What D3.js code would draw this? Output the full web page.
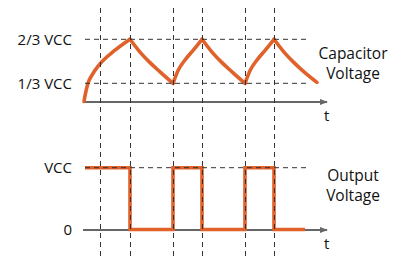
<!DOCTYPE html>
<html>
<head>
<meta charset="utf-8">
<script src="https://cdn.jsdelivr.net/npm/d3@7"></script>
<style>
  body { margin: 0; background: #fff; }
  .label { font-family: "Open Sans", sans-serif; font-size: 15px; fill: #111; }
</style>
</head>
<body>
<script>
  var width = 399, height = 260;
  var orange = "#e1612b", grey = "#666";

  // time in arbitrary units (0 = start of charging)
  var markTimes = [1.7, 4.7, 9.0, 11.9, 16.2, 19.1];
  // capacitor voltage, fraction of VCC
  var capT = [0.1, 0.26, 0.5, 0.9, 1.6, 3.17, 4.7, 5.7, 6.7, 7.7, 9.0, 9.53, 10.2, 11.03, 11.9, 12.9, 13.9, 14.9, 16.2, 16.73, 17.4, 18.23, 19.1, 20.1, 21.1, 22.1, 23.4];
  var capV = [0, 0.156, 0.333, 0.396, 0.472, 0.582, 0.667, 0.57, 0.49, 0.42, 0.333, 0.434, 0.51, 0.585, 0.667, 0.57, 0.49, 0.42, 0.333, 0.434, 0.51, 0.585, 0.667, 0.57, 0.49, 0.42, 0.34];
  var capTicks = [1/3, 2/3], capTickLabels = ["1/3 VCC", "2/3 VCC"];
  // output voltage, 1 = VCC
  var outT = [0.2, 4.7, 4.7, 9.0, 9.0, 11.9, 11.9, 16.2, 16.2, 19.1, 19.1, 22.2];
  var outV = [1, 1, 0, 0, 1, 1, 0, 0, 1, 1, 0, 0];
  var outTicks = [0, 1], outTickLabels = ["0", "VCC"];

  var x = d3.scaleLinear().domain([0, 24.4]).range([83, 327]);
  var yCap = d3.scaleLinear().domain([0, 1/3, 2/3]).range([101.5, 83.3, 39.3]);
  var yOut = d3.scaleLinear().domain([0, 1]).range([229.5, 167.7]);

  var svg = d3.select("body").append("svg").attr("width", width).attr("height", height);

  svg.append("defs").append("marker")
    .attr("id", "arr").attr("viewBox", "0 0 10 10").attr("refX", 9).attr("refY", 5)
    .attr("markerWidth", 4).attr("markerHeight", 4).attr("orient", "auto")
    .append("path").attr("d", "M0,1L10,5L0,9Z").attr("fill", grey);

  // split a series where it turns (so cusps stay sharp)
  function segments(ts, vs) {
    var segs = [], cur = [[ts[0], vs[0]]];
    for (var i = 1; i < ts.length; i++) {
      cur.push([ts[i], vs[i]]);
      if (i < ts.length - 1 && (vs[i] - vs[i - 1]) * (vs[i + 1] - vs[i]) < 0) {
        segs.push(cur);
        cur = [[ts[i], vs[i]]];
      }
    }
    segs.push(cur);
    return segs;
  }

  function panel(y, ticks, labels, ts, vs, smooth, title, tY) {
    // axis
    svg.append("line").attr("x1", x(0)).attr("x2", x(24.4))
      .attr("y1", y(0) + 0.5).attr("y2", y(0) + 0.5)
      .attr("stroke", grey).attr("stroke-width", 2).attr("marker-end", "url(#arr)");
    svg.append("text").attr("class", "label").attr("x", x(24.1)).attr("y", y(0) + 19).text("t");

    // signal
    var line = d3.line().x(function(d) { return x(d[0]); }).y(function(d) { return y(d[1]); });
    if (smooth) {
      line.curve(d3.curveMonotoneX);
      svg.selectAll(null).data(segments(ts, vs)).enter().append("path")
        .attr("d", line).attr("fill", "none")
        .attr("stroke", orange).attr("stroke-width", 3.6).attr("stroke-linecap", "round");
    } else {
      svg.append("path").attr("d", line(ts.map(function(t, i) { return [t, vs[i]]; })))
        .attr("fill", "none").attr("stroke", orange).attr("stroke-width", 3.6);
    }

    // dashed reference levels
    ticks.forEach(function(v, i) {
      if (v > 0) {
        svg.append("line").attr("x1", x(0.2)).attr("x2", x(22.7))
          .attr("y1", y(v)).attr("y2", y(v))
          .attr("stroke", "#333").attr("stroke-width", 1).attr("stroke-dasharray", "5,4");
      }
      svg.append("text").attr("class", "label").attr("x", 72).attr("y", y(v) + 5.5)
        .attr("text-anchor", "end").text(labels[i]);
    });

    svg.append("text").attr("class", "label").attr("text-anchor", "middle").style("font-size", "15.5px")
      .selectAll("tspan").data(title).enter().append("tspan")
      .attr("x", 353).attr("y", function(d, i) { return tY + i * 20; }).text(function(d) { return d; });
  }

  panel(yCap, capTicks, capTickLabels, capT, capV, true, ["Capacitor", "Voltage"], 58.5);
  panel(yOut, outTicks, outTickLabels, outT, outV, false, ["Output", "Voltage"], 180.5);

  // vertical time markers
  svg.selectAll(".mark").data(markTimes).enter().append("line")
    .attr("class", "mark")
    .attr("x1", function(d) { return Math.round(x(d)) + 0.5; })
    .attr("x2", function(d) { return Math.round(x(d)) + 0.5; })
    .attr("y1", 8).attr("y2", 260)
    .attr("stroke", "#333").attr("stroke-width", 1).attr("stroke-dasharray", "5,4");
</script>
</body>
</html>
